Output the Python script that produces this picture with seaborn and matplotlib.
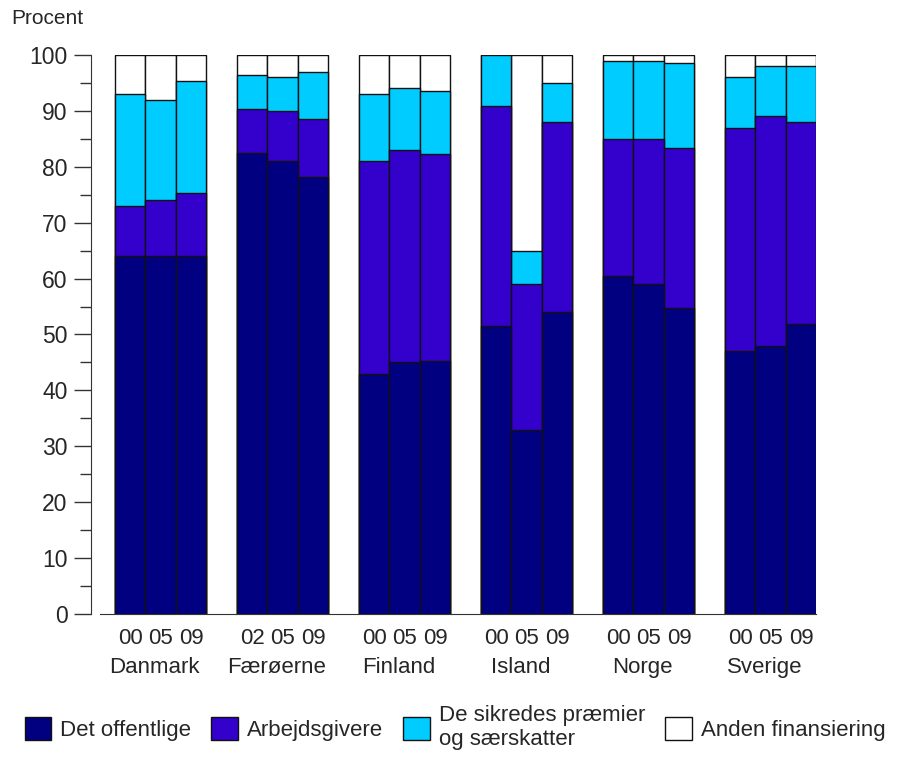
import numpy as np
import pandas as pd
import seaborn as sns
import matplotlib.pyplot as plt
from matplotlib.patches import Patch
from matplotlib import font_manager

countries = ['Danmark', 'Færøerne', 'Finland', 'Island', 'Norge', 'Sverige']
years = ['00', '05', '09', '02', '05', '09', '00', '05', '09',
         '00', '05', '09', '00', '05', '09', '00', '05', '09']

offentlige = [64, 64, 64, 82.5, 81, 78.2, 43, 45, 45.2,
              51.5, 33, 54, 60.5, 59, 54.7, 47, 48, 51.8]
arbejdsgivere = [9, 10, 11.3, 7.8, 9, 10.3, 38, 38, 37.1,
                 39.3, 26, 34, 24.5, 26, 28.6, 40, 41, 36.2]
sikrede = [20, 18, 20, 6.1, 6, 8.5, 12, 11, 11.2,
           9.2, 6, 7, 14, 14, 15.2, 9, 9, 10]
anden = [7, 8, 4.7, 3.6, 4, 3, 7, 6, 6.5,
         0, 35, 5, 1, 1, 1.5, 4, 2, 2]

series = ['Det offentlige', 'Arbejdsgivere',
          'De sikredes præmier\nog særskatter', 'Anden finansiering']
colors = ['#000080', '#3300CC', '#00CCFF', '#FFFFFF']

sns.set_style('white')
names = {f.name for f in font_manager.fontManager.ttflist}
fam = 'Liberation Sans Narrow' if 'Liberation Sans Narrow' in names else 'Liberation Sans'
plt.rcParams['font.family'] = ['Liberation Sans', 'DejaVu Sans']

pos = [4 * (i // 3) + i % 3 for i in range(len(years))]
vals = np.array([offentlige, arbejdsgivere, sikrede, anden])
cum = vals.cumsum(axis=0)

fig = plt.figure(figsize=(9.01, 7.58), dpi=100)
ax = fig.add_axes([0.101, 0.19, 0.805, 0.7375])

# stacked look: draw cumulative totals from the top layer down
for k in range(3, -1, -1):
    df = pd.DataFrame({'pos': pos, 'val': cum[k]})
    sns.barplot(data=df, x='pos', y='val', native_scale=True, width=1,
                color=colors[k], saturation=1, edgecolor='#111111',
                linewidth=1, ax=ax)

ax.set_xlim(-1.28, 22.5)
ax.set_ylim(0, 100)
ax.set_xlabel('')
ax.set_ylabel('')
ax.set_yticks(range(0, 101, 10))
ax.set_yticks(range(5, 100, 10), minor=True)
ax.tick_params(axis='y', which='major', direction='out', length=12, width=1,
               color='#333333', labelsize=16.5, pad=5, left=True)
ax.tick_params(axis='y', which='minor', direction='out', length=8, width=1,
               color='#333333', left=True)
ax.set_xticks(pos)
ax.set_xticklabels(years, fontsize=16, family=[fam, 'DejaVu Sans'])
ax.tick_params(axis='x', length=0, pad=10)

for s in ['top', 'right']:
    ax.spines[s].set_visible(False)
ax.spines['left'].set_color('#333333')
ax.spines['bottom'].set_color('#333333')
ax.spines['bottom'].set_bounds(-0.98, 22.5)

trans = ax.get_xaxis_transform()
for i, c in enumerate(countries):
    ax.text(4 * i + 0.8, -0.095, c, transform=trans, ha='center', va='center',
            fontsize=16, family=[fam, 'DejaVu Sans'])

fig.text(0.013, 0.976, 'Procent', fontsize=15, va='center', ha='left')

handles = [Patch(facecolor=colors[k], edgecolor='#111111', linewidth=1)
           for k in range(4)]
fig.legend(handles, series, loc='center', bbox_to_anchor=(0.505, 0.04),
           ncol=4, frameon=False, handlelength=1.2,
           handleheight=1.2, handletextpad=0.4, columnspacing=0.9,
           prop={'family': [fam, 'DejaVu Sans'], 'size': 16})

fig.savefig('out.png', dpi=100)
